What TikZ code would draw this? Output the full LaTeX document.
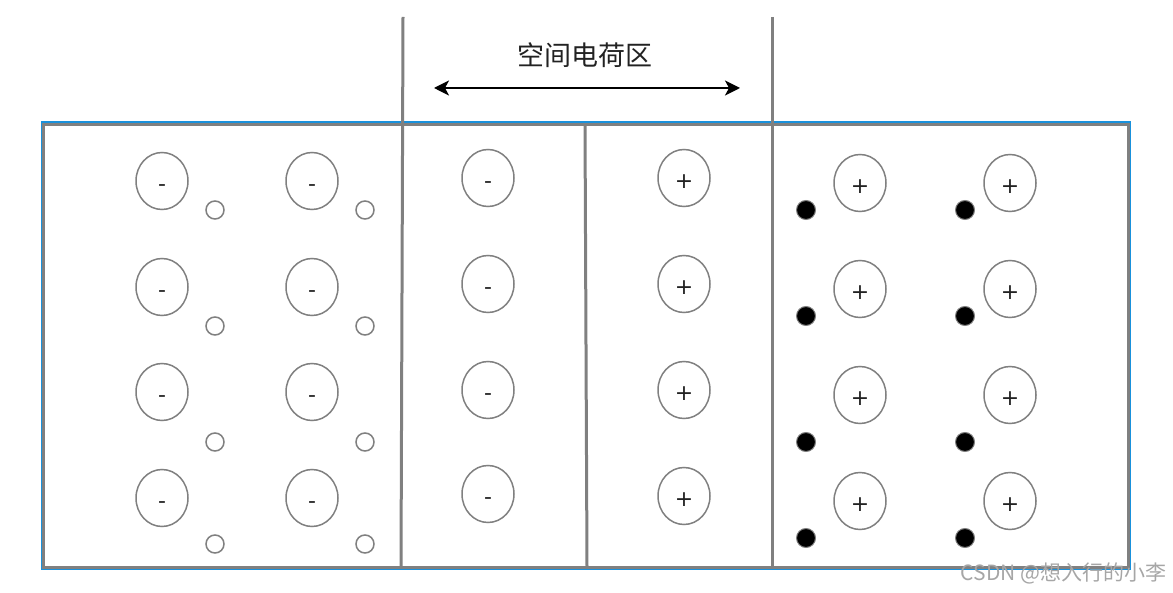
\documentclass[tikz,border=0pt]{standalone}
\usepackage{fontspec}
\newfontfamily\cjk{Noto Sans CJK SC}
\newfontfamily\signfont{DejaVu Sans}
\usetikzlibrary{shapes.geometric,arrows.meta}
\definecolor{lgray}{RGB}{128,128,128}
\definecolor{lblue}{RGB}{25,145,220}
\definecolor{txt}{RGB}{34,34,34}
\begin{document}
\begin{tikzpicture}[x=1pt,y=-1pt,
  ion/.style={ellipse,draw=lgray,line width=1.5pt,minimum width=52pt,minimum height=57pt,inner sep=0pt,text=txt,text height=21pt,text depth=0pt,font=\signfont\fontsize{22}{22}\selectfont},
  hole/.style={circle,draw=lgray,line width=1.5pt,minimum size=18pt,inner sep=0pt},
  elec/.style={circle,draw=lgray,fill=black,line width=1pt,minimum size=19pt,inner sep=0pt},
  wall/.style={draw=lgray,line width=3pt},
  frameb/.style={draw=lblue,line width=2pt}]
\useasboundingbox (0,0) rectangle (1173,593);
% frame
\draw[frameb] (42,122.5) rectangle (1130,568.5);
\draw[wall] (43.5,124.5) rectangle (1128,567);
\draw[wall] (403,17) -- (401,567);
\draw[wall] (585,124.5) -- (587,567);
\draw[wall] (772,17) -- (772,567);
% title and arrow
\node[font=\cjk\fontsize{27}{27}\selectfont,text=txt] (title) at (585,55) {空间电荷区};
\coordinate (aL) at (434,88);
\coordinate (aR) at (740,88);
\draw[line width=1.8pt,{Stealth[length=15pt,width=15pt,inset=4pt]}-{Stealth[length=15pt,width=15pt,inset=4pt]}] (aL) -- (aR);
% P region: negative ions and holes
\foreach \r/\y/\hy in {1/181/210,2/287/326,3/392/442,4/498/544}{
  \node[ion] (pa\r) at (162,\y) {-};
  \node[ion] (pb\r) at (312,\y) {-};
  \node[hole] (ha\r) at (215,\hy) {};
  \node[hole] (hb\r) at (365,\hy) {};
}
% depletion region
\foreach \r/\y in {1/178,2/284,3/390,4/494}{
  \node[ion] (dn\r) at (488,\y) {-};
}
\foreach \r/\y in {1/178,2/284,3/390,4/496}{
  \node[ion] (dp\r) at (684,\y) {+};
}
% N region: positive ions and electrons
\foreach \r/\y/\ey in {1/183/210,2/289/316,3/395/442,4/501/538}{
  \node[ion] (na\r) at (860,\y) {+};
  \node[ion] (nb\r) at (1010,\y) {+};
  \node[elec] (ea\r) at (806,\ey) {};
  \node[elec] (eb\r) at (965,\ey) {};
}
% watermark
\node[font=\cjk\fontsize{21}{21}\selectfont,text=black!35,anchor=east] (wm) at (1170,573) {CSDN @想入行的小李};
\end{tikzpicture}
\end{document}
